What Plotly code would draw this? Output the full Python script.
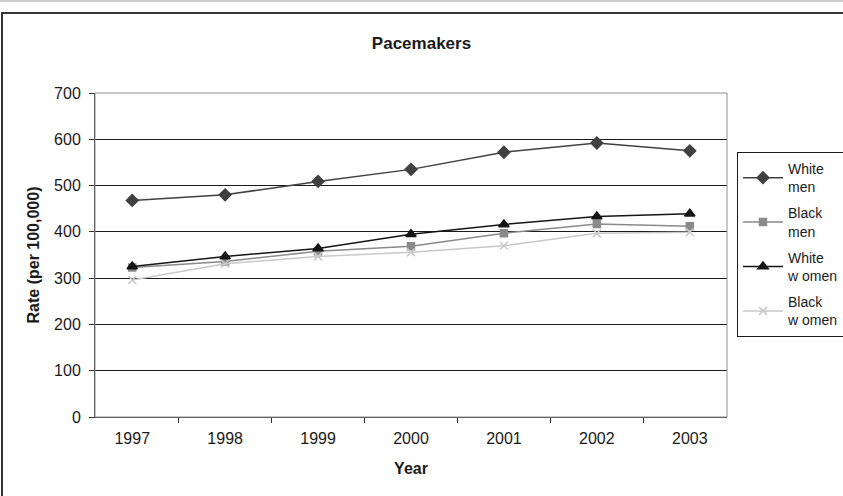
import plotly.graph_objects as go

years = ["1997", "1998", "1999", "2000", "2001", "2002", "2003"]
white_men = [468, 480, 509, 535, 572, 592, 575]
black_men = [323, 336, 358, 369, 397, 417, 412]
white_women = [325, 347, 364, 395, 416, 433, 439]
black_women = [296, 331, 347, 356, 370, 397, 399]

series = [
    ("White<br>men", white_men, "#404040", "diamond", 9),
    ("Black<br>men", black_men, "#8a8a8a", "square", 7),
    ("White<br>w omen", white_women, "#151515", "triangle-up", 9),
    ("Black<br>w omen", black_women, "#c8c8c8", "x-thin", 8),
]

fig = go.Figure()
for i, (name, vals, col, sym, size) in enumerate(series):
    fig.add_trace(go.Scatter(
        x=years, y=vals, name=name, mode="lines+markers",
        legendgroup="g%d" % i,
        line=dict(color=col, width=1.5),
        marker=dict(symbol=sym, size=size, color=col,
                    line=dict(color=col, width=1.5)),
    ))

W, H = 843, 496
L, R, T, B = 95, 116, 93, 79
pw, ph = W - L - R, H - T - B

def px(x):
    return (x - L) / pw

def py(y):
    return (H - B - y) / ph

fig.update_layout(
    width=W, height=H,
    margin=dict(l=L, r=R, t=T, b=B, autoexpand=False),
    paper_bgcolor="white", plot_bgcolor="white",
    font=dict(family="Liberation Sans, Arial", size=16, color="#1a1a1a"),
    title=dict(text="<b>Pacemakers</b>", x=0.5, xanchor="center",
               y=1 - 43 / H, yanchor="middle", font=dict(size=17)),
    showlegend=True,
    legend=dict(x=px(737), y=py(152), xanchor="left", yanchor="top",
                bordercolor="#1a1a1a", borderwidth=1, bgcolor="white",
                font=dict(size=14), itemwidth=40, tracegroupgap=5,
                traceorder="grouped"),
    xaxis=dict(type="category", tickson="boundaries", ticks="outside",
               ticklen=5, tickcolor="#333", showline=True, linecolor="#333",
               linewidth=1, showgrid=False, mirror=False,
               ticklabelstandoff=7,
               title=dict(text="<b>Year</b>", font=dict(size=16), standoff=16),
               tickfont=dict(size=16)),
    yaxis=dict(range=[0, 700], dtick=100, ticks="outside", ticklen=5,
               tickcolor="#333", showline=True, linecolor="#333", linewidth=1,
               showgrid=True, gridcolor="#1a1a1a", gridwidth=1,
               zeroline=False, ticklabelstandoff=5,
               title=dict(text="<b>Rate (per 100,000)</b>", font=dict(size=16),
                          standoff=10),
               tickfont=dict(size=16)),
    shapes=[
        dict(type="rect", xref="paper", yref="paper", x0=0, x1=1, y0=0, y1=1,
             line=dict(color="#909090", width=1)),
        dict(type="rect", xref="paper", yref="paper",
             x0=px(2), x1=px(860), y0=py(510), y1=py(13),
             line=dict(color="#333", width=2)),
        dict(type="line", xref="paper", yref="paper",
             x0=px(0), x1=px(843), y0=py(1), y1=py(1),
             line=dict(color="#999", width=1)),
    ],
)

fig.write_html("out.html", config={"displayModeBar": False},
               post_script="document.body.style.margin='0';")
